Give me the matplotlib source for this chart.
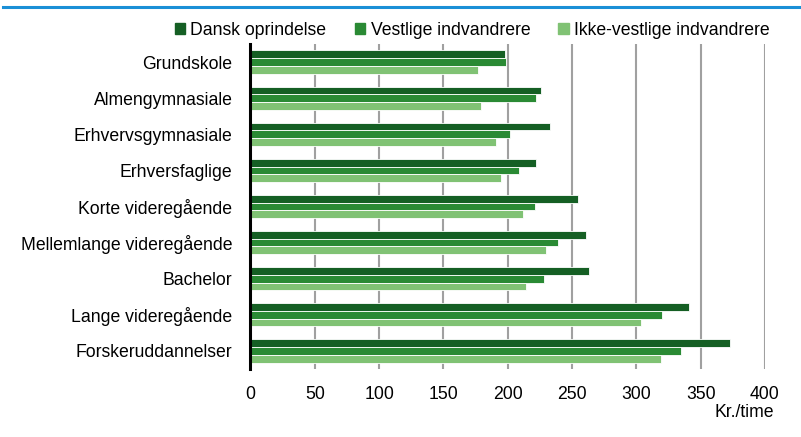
import matplotlib.pyplot as plt
import numpy as np
from matplotlib.lines import Line2D

plt.rcParams['font.family'] = ['Liberation Sans', 'DejaVu Sans']

# Timeløn efter uddannelse og herkomst (kr./time)
uddannelser = ['Grundskole', 'Almengymnasiale', 'Erhvervsgymnasiale',
               'Erhversfaglige', 'Korte videregående',
               'Mellemlange videregående', 'Bachelor',
               'Lange videregående', 'Forskeruddannelser']
dansk = [198, 226, 233, 222, 255, 261, 263, 341, 373]
vestlige = [199, 222, 202, 209, 221, 239, 228, 320, 335]
ikke_vestlige = [177, 179, 191, 195, 212, 230, 214, 304, 319]

serier = ['Dansk oprindelse', 'Vestlige indvandrere', 'Ikke-vestlige indvandrere']
farver = ['#155f24', '#2a8a34', '#80c274']
xticks = [0, 50, 100, 150, 200, 250, 300, 350, 400]
fs = 12.7

fig = plt.figure(figsize=(8.01, 4.37), dpi=100)
ax = fig.add_axes([0.3127, 0.1556, 0.6423, 0.7437])

y = np.arange(len(uddannelser))
h = 0.215
for i, (vals, navn, farve) in enumerate(zip([dansk, vestlige, ikke_vestlige], serier, farver)):
    ax.barh(y + (i - 1) * h, vals, height=h, color=farve, edgecolor='white',
            linewidth=0.6, label=navn, zorder=3)

ax.set_ylim(len(uddannelser) - 0.5, -0.5)
ax.set_xlim(0, 400)
ax.set_yticks(y)
ax.set_yticklabels(uddannelser, fontsize=fs)
ax.set_xticks(xticks)
ax.set_xticklabels([str(t) for t in xticks], fontsize=fs)
ax.tick_params(axis='y', length=0, pad=13)
ax.tick_params(axis='x', length=0, pad=12)

ax.grid(axis='x', color='#a0a0a0', linewidth=1.5, zorder=0)
for side in ['top', 'right', 'bottom']:
    ax.spines[side].set_visible(False)
ax.spines['left'].set_color('black')
ax.spines['left'].set_linewidth(2.2)
ax.spines['left'].set_zorder(4)

ax.text(0.959, -0.135, 'Kr./time', transform=ax.transAxes, ha='center',
        va='center', fontsize=fs)

handles = [plt.Rectangle((0, 0), 1, 1, color=f) for f in farver]
fig.legend(handles, serier, loc='center right', bbox_to_anchor=(0.981, 0.93),
           ncol=3, frameon=False, fontsize=fs, handlelength=0.6,
           handleheight=0.6, handletextpad=0.3, columnspacing=1.6)

# blå streg i toppen
fig.add_artist(Line2D([0.004, 1.0], [0.984, 0.984], transform=fig.transFigure,
                      color='#1a8fd6', linewidth=2.2))

fig.savefig('out.png', dpi=100)
